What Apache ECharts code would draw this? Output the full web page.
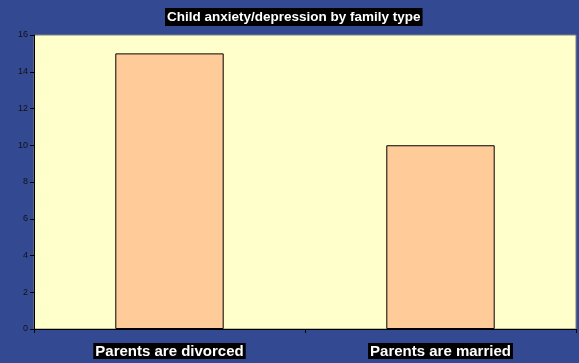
<!DOCTYPE html>
<html><head><meta charset="utf-8">
<script src="https://cdn.jsdelivr.net/npm/echarts@6/dist/echarts.min.js"></script>
<style>html,body{margin:0;padding:0;background:#334a93;}#c{width:579px;height:363px;}</style>
</head><body><div id="c"></div>
<script>
const categories = ["Parents are divorced", "Parents are married"];
const values = [15, 10];
const yTicks = [0, 2, 4, 6, 8, 10, 12, 14, 16];
const titleText = "Child anxiety/depression by family type";

const chart = echarts.init(document.getElementById('c'));
chart.setOption({
  backgroundColor: '#334a93',
  animation: false,
  title: {
    text: titleText, left: 165, top: 8,
    backgroundColor: '#000', padding: [2, 2, 2, 2],
    textStyle: {color: '#fff', fontFamily: 'Liberation Sans', fontWeight: 'bold', fontSize: 13.5, lineHeight: 14}
  },
  grid: {left: 34, right: 3, top: 35, bottom: 34, show: true, backgroundColor: '#ffffcc', borderColor: '#808080', borderWidth: 1},
  xAxis: {
    type: 'category', data: categories,
    axisLine: {lineStyle: {color: '#000', width: 1}},
    axisTick: {show: true, length: 4, lineStyle: {color: '#000'}},
    axisLabel: {color: '#fff', fontFamily: 'Liberation Sans', fontWeight: 'bold', fontSize: 15,
      backgroundColor: '#000', padding: [1, 2, 0, 2], margin: 14}
  },
  yAxis: {
    type: 'value', min: yTicks[0], max: yTicks[yTicks.length-1], interval: 2,
    splitLine: {show: false},
    axisLine: {show: true, lineStyle: {color: '#000'}},
    axisTick: {show: true, length: 4, lineStyle: {color: '#000'}},
    axisLabel: {color: '#111', fontFamily: 'Liberation Sans', fontSize: 9, margin: 6}
  },
  series: [{
    type: 'bar', data: values, barWidth: '40%',
    itemStyle: {color: '#ffcc99', borderColor: '#000', borderWidth: 1}
  }]
});
</script></body></html>
